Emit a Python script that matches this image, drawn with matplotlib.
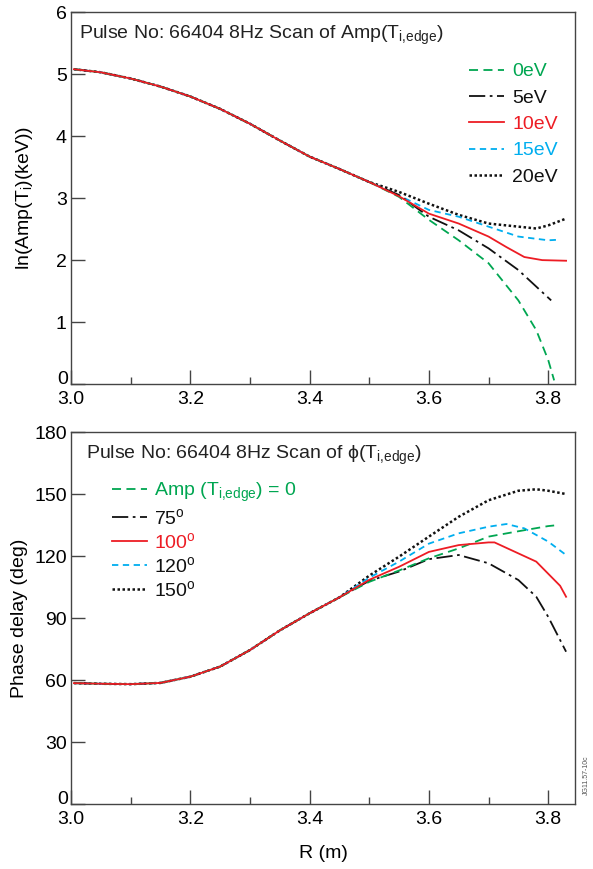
import matplotlib.pyplot as plt
from matplotlib.ticker import MultipleLocator, FuncFormatter

plt.rcParams['font.family'] = ['Liberation Sans', 'DejaVu Sans']
plt.rcParams['mathtext.fontset'] = 'custom'
plt.rcParams['mathtext.rm'] = 'Liberation Sans'
plt.rcParams['mathtext.it'] = 'Liberation Sans'

GREEN = '#00a651'
RED = '#ed1c24'
CYAN = '#00aeef'
BLACK = '#111111'
FS = 14

# ---- top panel: ln(Amp(Ti)) for edge amplitude scan ----
r_common = [3.005, 3.05, 3.1, 3.15, 3.2, 3.25, 3.3, 3.35, 3.4, 3.45, 3.5]
amp_common = [5.08, 5.03, 4.93, 4.80, 4.64, 4.44, 4.20, 3.93, 3.67, 3.47, 3.26]

r_0ev = [3.55, 3.6, 3.65, 3.7, 3.75, 3.78, 3.8, 3.81]
amp_0ev = [3.02, 2.65, 2.32, 1.95, 1.35, 0.87, 0.39, 0.06]
r_5ev = [3.55, 3.6, 3.65, 3.7, 3.75, 3.805]
amp_5ev = [3.05, 2.70, 2.48, 2.19, 1.84, 1.35]
r_10ev = [3.55, 3.6, 3.65, 3.7, 3.73, 3.76, 3.79, 3.83]
amp_10ev = [3.03, 2.75, 2.59, 2.38, 2.21, 2.05, 2.00, 1.99]
r_15ev = [3.55, 3.6, 3.65, 3.7, 3.75, 3.8, 3.82]
amp_15ev = [3.04, 2.81, 2.70, 2.54, 2.38, 2.32, 2.33]
r_20ev = [3.55, 3.6, 3.65, 3.7, 3.75, 3.78, 3.8, 3.83]
amp_20ev = [3.10, 2.91, 2.73, 2.59, 2.54, 2.51, 2.56, 2.67]

# ---- bottom panel: phase delay for edge phase scan ----
ph_r_common = [3.005, 3.05, 3.1, 3.15, 3.2, 3.25, 3.3, 3.35, 3.4, 3.45]
ph_common = [58.5, 58.2, 58.0, 58.6, 61.6, 66.5, 74.5, 84.0, 92.3, 100.0]

ph_r_amp0 = [3.5, 3.55, 3.6, 3.65, 3.7, 3.75, 3.8, 3.81]
ph_amp0 = [107.5, 113.0, 118.9, 123.7, 129.4, 132.0, 134.5, 134.8]
ph_r_75 = [3.5, 3.55, 3.6, 3.65, 3.7, 3.75, 3.78, 3.8, 3.83]
ph_75 = [108.0, 112.5, 118.5, 120.5, 116.5, 108.4, 100.3, 90.6, 73.7]
ph_r_100 = [3.5, 3.55, 3.6, 3.65, 3.7, 3.71, 3.78, 3.82, 3.83]
ph_100 = [108.5, 114.8, 122.0, 125.3, 126.6, 126.6, 117.3, 105.6, 100.3]
ph_r_120 = [3.5, 3.55, 3.6, 3.65, 3.7, 3.73, 3.76, 3.8, 3.83]
ph_120 = [109.5, 117.3, 126.0, 131.0, 134.2, 135.5, 133.4, 127.0, 120.5]
ph_r_150 = [3.5, 3.55, 3.6, 3.65, 3.7, 3.75, 3.78, 3.8, 3.83]
ph_150 = [110.5, 119.7, 129.4, 139.0, 147.0, 151.6, 152.3, 151.6, 150.0]

styles = {
    'g': dict(color=GREEN, ls=(0, (5, 3)), lw=1.3),
    'dd': dict(color=BLACK, ls=(0, (9, 2.5, 1.5, 2.5)), lw=1.3),
    'r': dict(color=RED, ls='-', lw=1.3),
    'c': dict(color=CYAN, ls=(0, (3.5, 2.5)), lw=1.3),
    'dot': dict(color=BLACK, ls=(0, (1, 1)), lw=1.8),
}


def style_axes(ax):
    for s in ax.spines.values():
        s.set_color('#444444')
        s.set_linewidth(1.0)
    ax.set_xlim(3.0, 3.845)
    ax.xaxis.set_major_locator(MultipleLocator(0.2))
    ax.xaxis.set_minor_locator(MultipleLocator(0.1))
    ax.tick_params(axis='both', which='major', direction='in', length=10,
                   width=1.0, color='#444444', labelsize=FS, top=False, right=False)
    ax.tick_params(axis='x', which='minor', direction='in', length=5,
                   width=1.0, color='#444444', top=False)
    ax.tick_params(axis='x', which='major', pad=5)
    ax.tick_params(axis='y', which='major', pad=3)
    ax.xaxis.set_major_formatter(plt.FormatStrFormatter('%.1f'))
    # the "0" sits a little above the corner in the original, so it is drawn
    # on its own and left out of the regular tick labels
    ax.yaxis.set_major_formatter(FuncFormatter(lambda v, p: '' if v == 0 else '%g' % v))
    ax.annotate('0', xy=(0, 0), xycoords=('axes fraction', 'data'),
                xytext=(-2.2, -3), textcoords='offset points',
                ha='right', va='bottom', fontsize=FS)


fig = plt.figure(figsize=(5.93, 8.69), dpi=100)
ax1 = fig.add_axes([0.1197, 0.558, 0.85, 0.428])
ax2 = fig.add_axes([0.1197, 0.0748, 0.85, 0.428])

# top panel
lines = [
    (r_20ev, amp_20ev, 'dot', '20eV'),
    (r_15ev, amp_15ev, 'c', '15eV'),
    (r_5ev, amp_5ev, 'dd', '5eV'),
    (r_0ev, amp_0ev, 'g', '0eV'),
    (r_10ev, amp_10ev, 'r', '10eV'),
]
handles1 = {}
for rr, yy, st, lab in lines:
    h, = ax1.plot(r_common + rr, amp_common + yy, label=lab, **styles[st])
    handles1[lab] = h
order1 = ['0eV', '5eV', '10eV', '15eV', '20eV']
leg1 = ax1.legend([handles1[k] for k in order1], order1, loc='upper left',
                  bbox_to_anchor=(0.775, 0.885), frameon=False, fontsize=FS,
                  handlelength=1.8, handletextpad=0.4, labelspacing=0.45,
                  borderaxespad=0)
for t, c in zip(leg1.get_texts(), [GREEN, BLACK, RED, CYAN, BLACK]):
    t.set_color(c)
ax1.set_ylim(0, 6)
ax1.yaxis.set_major_locator(MultipleLocator(1))
ax1.set_ylabel(r'ln(Amp(T$_\mathregular{i}$)(keV))', fontsize=FS)
ax1.yaxis.set_label_coords(-0.071, 0.5)
ax1.text(0.016, 0.968, r'Pulse No: 66404 8Hz Scan of Amp(T$_\mathregular{i{,}edge}$)',
         transform=ax1.transAxes, ha='left', va='top', fontsize=FS, color='#222222')

# bottom panel
lines2 = [
    (ph_r_150, ph_150, 'dot', '150$^\\mathregular{o}$'),
    (ph_r_120, ph_120, 'c', '120$^\\mathregular{o}$'),
    (ph_r_75, ph_75, 'dd', '75$^\\mathregular{o}$'),
    (ph_r_amp0, ph_amp0, 'g', 'Amp (T$_\\mathregular{i{,}edge}$) = 0'),
    (ph_r_100, ph_100, 'r', '100$^\\mathregular{o}$'),
]
handles2 = {}
for rr, yy, st, lab in lines2:
    h, = ax2.plot(ph_r_common + rr, ph_common + yy, label=lab, **styles[st])
    handles2[lab] = h
order2 = ['Amp (T$_\\mathregular{i{,}edge}$) = 0', '75$^\\mathregular{o}$',
          '100$^\\mathregular{o}$', '120$^\\mathregular{o}$', '150$^\\mathregular{o}$']
leg2 = ax2.legend([handles2[k] for k in order2], order2, loc='upper left',
                  bbox_to_anchor=(0.065, 0.89), frameon=False, fontsize=FS,
                  handlelength=1.8, handletextpad=0.4, labelspacing=0.2,
                  borderaxespad=0)
for t, c in zip(leg2.get_texts(), [GREEN, BLACK, RED, BLACK, BLACK]):
    t.set_color(c)
ax2.set_ylim(0, 180)
ax2.yaxis.set_major_locator(MultipleLocator(30))
ax2.set_ylabel('Phase delay (deg)', fontsize=FS)
ax2.yaxis.set_label_coords(-0.085, 0.5)
ax2.set_xlabel('R (m)', fontsize=FS, labelpad=12)
ax2.text(0.03, 0.968, r'Pulse No: 66404 8Hz Scan of $\phi$(T$_\mathregular{i{,}edge}$)',
         transform=ax2.transAxes, ha='left', va='top', fontsize=FS, color='#222222')

style_axes(ax1)
style_axes(ax2)

fig.text(0.995, 0.085, 'JG11.57-10c', rotation=90, fontsize=5, color='#555555',
         ha='right', va='bottom')

fig.savefig('out.png', dpi=100)
